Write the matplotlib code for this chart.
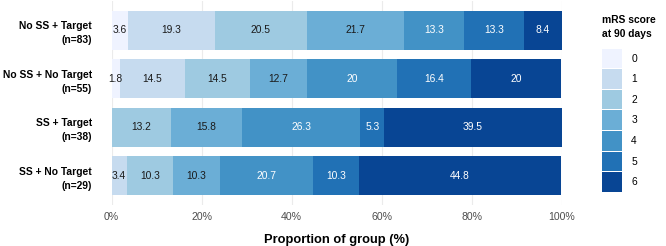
import numpy as np
import matplotlib.pyplot as plt
from matplotlib.patches import Patch

plt.rcParams['font.family'] = ['Liberation Sans', 'DejaVu Sans']

groups = ['No SS + Target\n(n=83)', 'No SS + No Target\n(n=55)',
          'SS + Target\n(n=38)', 'SS + No Target\n(n=29)']
mrs_levels = ['0', '1', '2', '3', '4', '5', '6']
# percentages per mRS level, one row per group
pct = [
    [3.6, 19.3, 20.5, 21.7, 13.3, 13.3, 8.4],
    [1.8, 14.5, 14.5, 12.7, 20.0, 16.4, 20.0],
    [0.0, 0.0, 13.2, 15.8, 26.3, 5.3, 39.5],
    [0.0, 3.4, 10.3, 10.3, 20.7, 10.3, 44.8],
]
colors = ['#EFF3FF', '#C6DBEF', '#9ECAE1', '#6BAED6', '#4292C6', '#2171B5', '#084594']
text_colors = ['#1a1a1a'] * 4 + ['white'] * 3

fig = plt.figure(figsize=(6.66, 2.46), dpi=100)
ax = fig.add_axes([111.5/666, 41/246, 450/666, 204/246])

data = np.array(pct)
y = np.arange(len(groups))[::-1] + 1
left = np.zeros(len(groups))
for j, lev in enumerate(mrs_levels):
    vals = data[:, j]
    ax.barh(y, vals, left=left, height=0.8, color=colors[j], edgecolor='none', zorder=2)
    for yi, l, v in zip(y, left, vals):
        if v > 0:
            ax.text(l + v/2, yi, f'{v:g}', ha='center', va='center',
                    fontsize=7.4, color=text_colors[j], zorder=3)
    left = left + vals

ax.set_xlim(0, 100)
ax.set_ylim(0.4, 4.6)
ax.set_xticks([0, 20, 40, 60, 80, 100])
ax.set_xticklabels(['0%', '20%', '40%', '60%', '80%', '100%'])
ax.set_yticks(y)
ax.set_yticklabels(groups, fontweight='bold', fontsize=7.4, color='black', ha='right',
                   multialignment='right', linespacing=1.5)
ax.tick_params(axis='y', length=0, pad=14)
ax.tick_params(axis='x', length=0, pad=5, labelsize=7.6, labelcolor='#4D4D4D')
ax.grid(axis='x', color='#EBEBEB', lw=0.8, zorder=0)
for s in ax.spines.values():
    s.set_visible(False)
ax.set_xlabel('Proportion of group (%)', fontweight='bold', fontsize=9.3, labelpad=9)

handles = [Patch(facecolor=c, edgecolor='none', label=l) for c, l in zip(colors, mrs_levels)]
leg = fig.legend(handles=handles, title='mRS score\nat 90 days', loc='upper left',
                 bbox_to_anchor=(602/666, 1 - 15/246), frameon=False, fontsize=7.4,
                 title_fontsize=7.4, handlelength=1.95, handleheight=2.55,
                 labelspacing=0.1, handletextpad=0.9, borderaxespad=0, borderpad=0)
leg.get_title().set_fontweight('bold')
leg.get_title().set_linespacing(1.5)
leg._legend_box.align = 'left'
leg._legend_box.sep = 7

plt.savefig('out.png', dpi=100)
